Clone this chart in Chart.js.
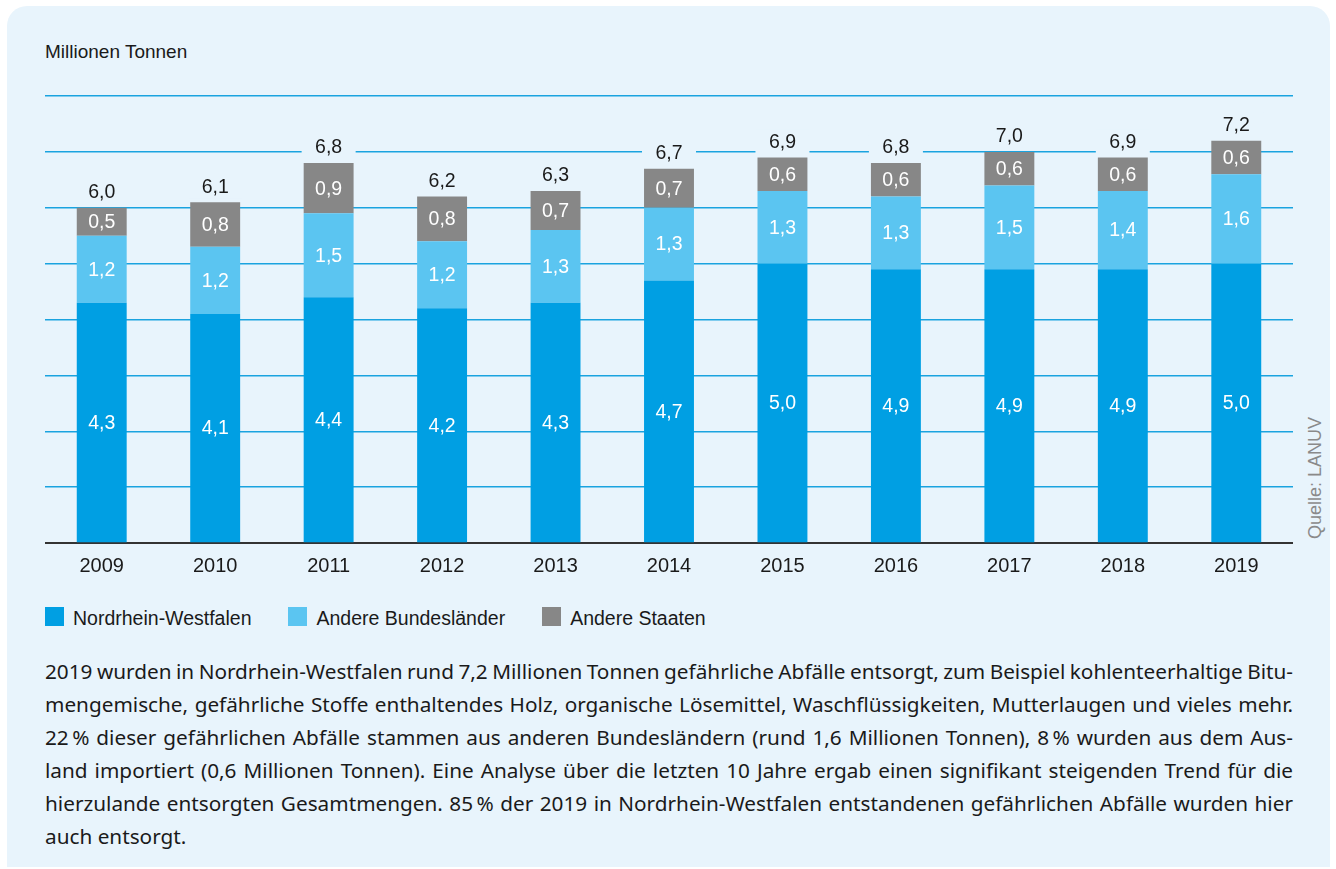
<!DOCTYPE html>
<html lang="de">
<head>
<meta charset="utf-8">
<title>Gefährliche Abfälle NRW</title>
<script src="https://cdn.jsdelivr.net/npm/chart.js@4.4.0/dist/chart.umd.min.js"></script>
<style>
  body { margin: 0; background: #fff; font-family: "Liberation Sans", Arial, sans-serif; color: #1a1a1a; }
  #panel { position: absolute; left: 7px; top: 6px; width: 1323px; height: 861px; background: #E8F4FC; border-radius: 20px 20px 0 0; }
  #unit { position: absolute; left: 45px; top: 42px; font-size: 19px; line-height: 19px; }
  #chartBox { position: absolute; left: 45px; top: 86px; width: 1248px; height: 504px; }
  #legend { position: absolute; left: 45px; top: 607px; display: flex; font-size: 19.5px; line-height: 19px; }
  #legend .item { display: flex; align-items: center; margin-right: 37px; }
  #legend .box { width: 19px; height: 19px; margin-right: 9px; }
  #legend .txt { position: relative; top: 2px; }
  #source { position: absolute; left: 1315px; top: 478px; transform: translate(-50%, -50%) rotate(-90deg); font-size: 18px; color: #8a8a8a; white-space: nowrap; }
  #text { position: absolute; left: 45px; top: 655px; width: 1248px; font-family: "Noto Sans", sans-serif; font-size: 20.75px; }
  #text .line { height: 33px; line-height: 33px; white-space: nowrap; }
</style>
</head>
<body>
<div id="panel"></div>
<div id="unit">Millionen Tonnen</div>
<div id="chartBox"><canvas id="wasteChart"></canvas></div>
<div id="legend"></div>
<div id="source">Quelle: LANUV</div>
<div id="text">
  <div class="line just"><span>2019 wurden in Nordrhein-Westfalen rund 7,2 Millionen Tonnen gefährliche Abfälle entsorgt, zum Beispiel kohlenteerhaltige Bitu-</span></div>
  <div class="line just"><span>mengemische, gefährliche Stoffe enthaltendes Holz, organische Lösemittel, Waschflüssigkeiten, Mutterlaugen und vieles mehr.</span></div>
  <div class="line just"><span>22&#8239;% dieser gefährlichen Abfälle stammen aus anderen Bundesländern (rund 1,6 Millionen Tonnen), 8&#8239;% wurden aus dem Aus-</span></div>
  <div class="line just"><span>land importiert (0,6 Millionen Tonnen). Eine Analyse über die letzten 10 Jahre ergab einen signifikant steigenden Trend für die</span></div>
  <div class="line just"><span>hierzulande entsorgten Gesamtmengen. 85&#8239;% der 2019 in Nordrhein-Westfalen entstandenen gefährlichen Abfälle wurden hier</span></div>
  <div class="line"><span>auch entsorgt.</span></div>
</div>
<script>
  // Gefährliche Abfälle, entsorgt in NRW, nach Herkunft (Millionen Tonnen)
  const years = ['2009', '2010', '2011', '2012', '2013', '2014', '2015', '2016', '2017', '2018', '2019'];
  const nrw = [4.3, 4.1, 4.4, 4.2, 4.3, 4.7, 5.0, 4.9, 4.9, 4.9, 5.0];
  const andereLaender = [1.2, 1.2, 1.5, 1.2, 1.3, 1.3, 1.3, 1.3, 1.5, 1.4, 1.6];
  const andereStaaten = [0.5, 0.8, 0.9, 0.8, 0.7, 0.7, 0.6, 0.6, 0.6, 0.6, 0.6];
  const seriesNames = ['Nordrhein-Westfalen', 'Andere Bundesländer', 'Andere Staaten'];

  const colors = ['#009FE3', '#5BC5F1', '#878787'];
  const panelColor = '#E8F4FC';
  const fontFamily = '"Liberation Sans", Arial, sans-serif';

  const fmt = v => v.toFixed(1).replace('.', ',');

  // Legend as HTML
  const legend = document.getElementById('legend');
  seriesNames.forEach((name, i) => {
    const item = document.createElement('div');
    item.className = 'item';
    item.innerHTML = '<span class="box" style="background:' + colors[i] + '"></span><span class="txt">' + name + '</span>';
    legend.appendChild(item);
  });

  // justify the paragraph lines to the chart width
  document.querySelectorAll('#text .just').forEach(el => {
    const span = el.firstElementChild;
    const spaces = (span.textContent.match(/ /g) || []).length;
    const w = span.getBoundingClientRect().width;
    span.style.wordSpacing = ((1248 - w) / spaces) + 'px';
  });

  // values inside the segments and totals on top
  const valueLabels = {
    id: 'valueLabels',
    afterDatasetsDraw(chart) {
      const ctx = chart.ctx;
      const n = chart.data.datasets.length;
      ctx.save();
      ctx.font = '19.5px ' + fontFamily;
      ctx.textAlign = 'center';
      ctx.textBaseline = 'middle';
      chart.data.datasets.forEach((ds, i) => {
        chart.getDatasetMeta(i).data.forEach((bar, j) => {
          ctx.fillStyle = '#fff';
          ctx.fillText(fmt(ds.data[j]), bar.x, (bar.y + bar.base) / 2 + 1);
        });
      });
      chart.getDatasetMeta(n - 1).data.forEach((bar, j) => {
        let total = 0;
        chart.data.datasets.forEach(ds => { total += ds.data[j]; });
        ctx.fillStyle = panelColor;
        ctx.fillRect(bar.x - 27, bar.y - 28, 54, 24);
        ctx.fillStyle = '#1a1a1a';
        ctx.fillText(fmt(total), bar.x, bar.y - 15);
      });
      ctx.restore();
    }
  };

  Chart.defaults.font.family = fontFamily;

  const ctx = document.getElementById('wasteChart').getContext('2d');
  const wasteChart = new Chart(ctx, {
    type: 'bar',
    data: {
      labels: years,
      datasets: [
        { label: seriesNames[0], data: nrw, backgroundColor: colors[0] },
        { label: seriesNames[1], data: andereLaender, backgroundColor: colors[1] },
        { label: seriesNames[2], data: andereStaaten, backgroundColor: colors[2] }
      ]
    },
    options: {
      responsive: true,
      maintainAspectRatio: false,
      animation: false,
      layout: { padding: { top: 10, left: 0, right: 0, bottom: 0 } },
      datasets: {
        bar: { barPercentage: 0.44, categoryPercentage: 1.0 }
      },
      plugins: {
        legend: { display: false },
        tooltip: { enabled: false }
      },
      scales: {
        x: {
          stacked: true,
          z: 1,
          grid: { display: false, drawTicks: false },
          border: { display: true, color: '#333333', width: 2 },
          ticks: { color: '#1a1a1a', font: { size: 20 }, padding: 11.5 }
        },
        y: {
          stacked: true,
          min: 0,
          max: 8,
          ticks: { display: false, stepSize: 1 },
          border: { display: false },
          grid: {
            drawTicks: false,
            lineWidth: 1.5,
            color: c => (c.tick && c.tick.value === 0) ? 'rgba(0,0,0,0)' : '#1AA3DF'
          }
        }
      }
    },
    plugins: [valueLabels]
  });
</script>
</body>
</html>
